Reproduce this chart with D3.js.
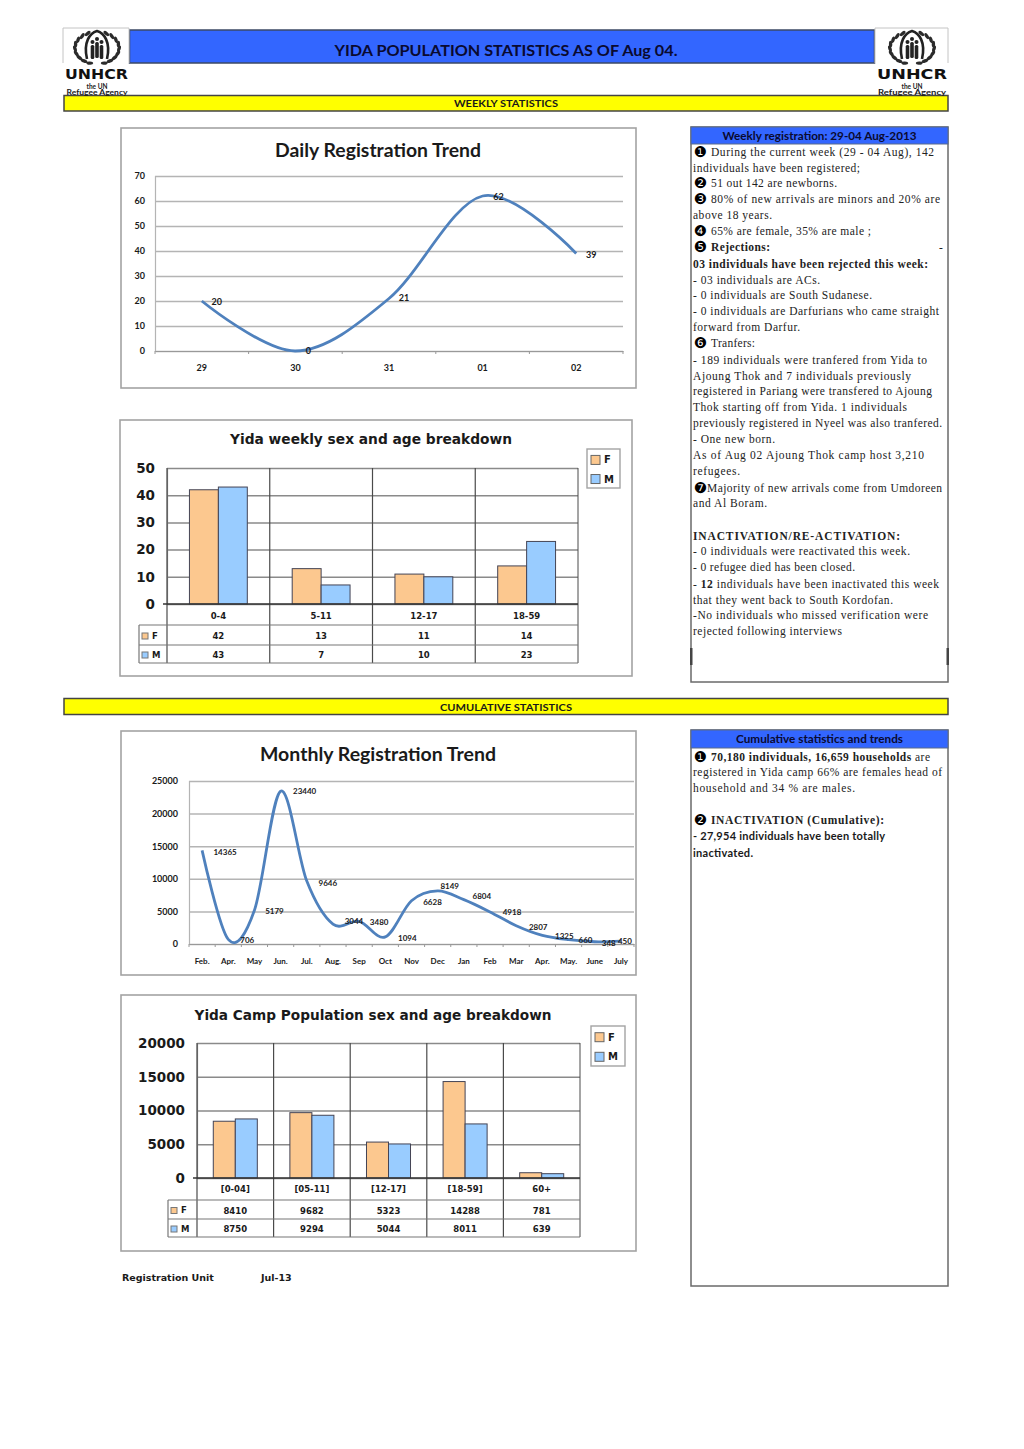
<!DOCTYPE html>
<html>
<head>
<meta charset="utf-8">
<title>Yida population statistics</title>
<script src="https://d3js.org/d3.v7.min.js"></script>
<style>
    html, body { margin: 0; padding: 0; background: #fff; }
    svg { display: block; }
    text { fill: #1a1a1a; }
    .sans { font-family: "Lato", "Open Sans", sans-serif; font-weight: 700; }
    .wide { font-family: "DejaVu Sans", sans-serif; font-weight: 700; }
    .serif { font-family: "Liberation Serif", serif; font-size: 11.5px; fill: #222; }
</style>
</head>
<body>
<div id="my_dataviz"></div>
<script>
// daily registration
var dailyDays = ["29", "30", "31", "01", "02"];
var dailyValues = [20, 0, 21, 62, 39];
var dailyTicks = [0, 10, 20, 30, 40, 50, 60, 70];

// monthly registration
var monthNames = ["Feb.", "Apr.", "May", "Jun.", "Jul.", "Aug.", "Sep", "Oct", "Nov", "Dec", "Jan", "Feb", "Mar", "Apr.", "May.", "June", "July"];
var monthValues = [14365, 706, 5179, 23440, 9646, 3044, 3480, 1094, 6628, 8149, 6804, 4918, 2807, 1325, 660, 348, 450];
var monthTicks = [0, 5000, 10000, 15000, 20000, 25000];
var monthLabelDx = [23, 19, 20, 24, 21, 21, 20, 22, 21, 12, 18, 22, 22, 22, 17, 14, 4];
var monthLabelDy = [2, 1, 1, 0, 2, -3, 1, 1, 1, -5, -3, 0, 2, 1, 1, 1, 0];

// weekly sex and age breakdown
var weeklyAges = ["0-4", "5-11", "12-17", "18-59"];
var weeklyF = [42, 13, 11, 14];
var weeklyM = [43, 7, 10, 23];
var weeklyTicks = [0, 10, 20, 30, 40, 50];

// camp population sex and age breakdown
var campAges = ["[0-04]", "[05-11]", "[12-17]", "[18-59]", "60+"];
var campF = [8410, 9682, 5323, 14288, 781];
var campM = [8750, 9294, 5044, 8011, 639];
var campTicks = [0, 5000, 10000, 15000, 20000];

// side notes: [text, bold, bullet, bold part of the line]
var weeklyNotes = [
    ["During the current week (29 - 04  Aug), 142", 0, "\u2776"],
    ["individuals have been registered;", 0],
    ["51 out 142 are newborns.", 0, "\u2777"],
    ["80% of new arrivals are minors and  20%  are", 0, "\u2778"],
    ["above  18 years.", 0],
    ["65%  are female, 35% are male ;", 0, "\u2779"],
    ["Rejections:", 1, "\u277A"],
    ["03 individuals have been rejected this week:", 1],
    ["- 03 individuals are ACs.", 0],
    ["- 0 individuals are South Sudanese.", 0],
    ["- 0 individuals are Darfurians who came straight", 0],
    ["forward from Darfur.", 0],
    ["Tranfers:", 0, "\u277B"],
    ["- 189 individuals were tranfered from Yida to", 0],
    ["Ajoung Thok and  7 individuals previously", 0],
    ["registered in Pariang were transfered to Ajoung", 0],
    ["Thok starting off from Yida. 1 individuals", 0],
    ["previously registered in Nyeel was also tranfered.", 0],
    ["- One new born.", 0],
    ["As of  Aug 02  Ajoung Thok camp host 3,210", 0],
    ["refugees.", 0],
    ["Majority of new arrivals come from Umdoreen", 0, "\u277C"],
    ["and  Al Boram.", 0],
    ["", 0],
    ["INACTIVATION/RE-ACTIVATION:", 1],
    ["-  0 individuals were reactivated this week.", 0],
    ["- 0 refugee died has been closed.", 0],
    ["-  12 individuals have been inactivated this week", 0, null, [3, 5]],
    ["that they went back to South Kordofan.", 0],
    ["-No  individuals who missed verification were", 0],
    ["rejected following interviews", 0]
];
var weeklyNoteEnds = [934, 860, 837, 940, 772, 871, 770, 928, 820, 872, 939, 800, 755, 927, 911, 932, 907, 942, 775, 924, 740, 942, 767, 0, 900, 910, 855, 939, 893, 928, 842];

var cumulativeNotes = [
    ["70,180 individuals, 16,659 households are", 0, "\u2776", [0, 37]],
    ["registered in Yida camp 66% are females head of", 0],
    ["household and 34 %  are males.", 0],
    ["", 0],
    ["INACTIVATION (Cumulative):", 1, "\u2777"],
    ["- 27,954 individuals have been totally", 2],
    ["inactivated.", 2]
];
var cumulativeNoteEnds = [930, 942, 855, 0, 884, 885, 753];

var fColor = "#fcc88f", mColor = "#99ccff";
var frameColor = "#a3a3a3", gridColor = "#b4b4b4", darkLine = "#4a4a4a";

var svg = d3.select("#my_dataviz").append("svg")
    .attr("width", 1024)
    .attr("height", 1449);

function box(x, y, w, h, fill, stroke, sw) {
    return svg.append("rect")
        .attr("x", x).attr("y", y).attr("width", w).attr("height", h)
        .attr("fill", fill).attr("stroke", stroke).attr("stroke-width", sw);
}

function centered(x, y, str, cls, size, spread) {
    var t = svg.append("text")
        .attr("class", cls)
        .attr("x", x).attr("y", y)
        .attr("dy", "0.35em")
        .attr("text-anchor", "middle")
        .style("font-size", size + "px")
        .text(str);
    if (spread) t.attr("textLength", spread).attr("lengthAdjust", "spacingAndGlyphs");
    return t;
}

function drawLogo(cx, logoX, logoW) {
    var g = svg.append("g");
    var cy = 48;
    g.append("path")
        .attr("d", "M" + logoX + ",63V28H" + (logoX + logoW) + "V63")
        .attr("fill", "#fff").attr("stroke", "#c4c4c4").attr("stroke-width", 1);

    // wreath leaves
    [-1, 1].forEach(function (side) {
        for (var i = 0; i < 9; i++) {
            var a = (-65 + i * 17) * Math.PI / 180;
            var lx = cx + side * 21 * Math.cos(a) * 1.05;
            var ly = cy + 16 * Math.sin(a);
            g.append("ellipse")
                .attr("cx", lx).attr("cy", ly)
                .attr("rx", 1.7).attr("ry", 3.4)
                .attr("transform", "rotate(" + (side * (a * 180 / Math.PI + 15)) + " " + lx + " " + ly + ")")
                .attr("fill", "#2b2b2b");
        }
    });

    // sheltering hands
    g.append("path")
        .attr("d", "M" + (cx - 10) + "," + (cy + 11) + " C" + (cx - 14) + "," + (cy - 6) + " " + (cx - 7) + "," + (cy - 15) + " " + cx + "," + (cy - 17)
            + " C" + (cx + 7) + "," + (cy - 15) + " " + (cx + 14) + "," + (cy - 6) + " " + (cx + 10) + "," + (cy + 11))
        .attr("fill", "none").attr("stroke", "#222").attr("stroke-width", 2.6);

    // family figures
    [-4.5, 0, 4.5].forEach(function (dx, i) {
        g.append("circle").attr("cx", cx + dx).attr("cy", cy - 8 + (i == 1 ? -1 : 2)).attr("r", 2).attr("fill", "#222");
        g.append("rect").attr("x", cx + dx - 1.8).attr("y", cy - 5 + (i == 1 ? -1 : 2))
            .attr("width", 3.6).attr("height", 16 - (i == 1 ? 0 : 2)).attr("rx", 1.5).attr("fill", "#222");
    });

    var lx = logoX + 2, rx = logoX + logoW - 1;
    centered((lx + rx) / 2, 74, "UNHCR", "wide", 14.5, rx - lx).style("fill", "#111");
    centered(cx, 87, "the UN", "sans", 6.5);
    centered(cx, 93, "Refugee Agency", "sans", 6.5, rx - lx - 2);
}

function drawHeader() {
    box(129.5, 30, 745, 33, "#3366ff", "#3d4a66", 1.5);

    box(64, 95.5, 884, 15.5, "#ffff00", "#444", 1.5);
    centered(506, 103, "WEEKLY STATISTICS", "sans", 10, 104);

    drawLogo(97, 63, 66);
    drawLogo(912, 875, 73);

    centered(506, 51, "YIDA POPULATION STATISTICS AS OF Aug 04.", "sans", 15.5, 343).style("fill", "#0a0a30");

    box(64, 698.5, 884, 16, "#ffff00", "#444", 1.5);
    centered(506, 707, "CUMULATIVE STATISTICS", "sans", 10, 132);
}

function drawNotes(x, y, w, h, headH, title, titleLen, notes, ends, lineY) {
    box(x, y, w, h, "#fff", "#6a6a6a", 1.5);
    box(x, y, w, headH, "#3366ff", "#5a6a8a", 1);
    centered(x + w / 2, y + headH / 2 + 0.5, title, "sans", 10.5, titleLen).style("fill", "#0a0a30");

    notes.forEach(function (n, i) {
        if (n[0] == "") return;
        var startX = n[2] ? (n[2] == "\u277C" ? 707 : 711) : 693;
        var t = svg.append("text")
            .attr("x", startX)
            .attr("y", lineY[i])
            .attr("dy", "0.35em")
            .attr("class", n[1] == 2 ? "sans" : "serif")
            .style("font-weight", n[1] ? 700 : 400)
            .style("font-size", n[1] == 2 ? "11px" : null)
            .attr("textLength", ends[i] - startX)
            .attr("lengthAdjust", "spacing");
        if (n[3]) {
            t.append("tspan").text(n[0].slice(0, n[3][0]));
            t.append("tspan").style("font-weight", 700).text(n[0].slice(n[3][0], n[3][1]));
            t.append("tspan").text(n[0].slice(n[3][1]));
        } else {
            t.text(n[0]);
        }
        if (n[2]) {
            svg.append("text")
                .attr("x", 700.5).attr("y", lineY[i]).attr("dy", "0.36em")
                .attr("text-anchor", "middle")
                .style("font-family", "DejaVu Sans").style("font-size", "15px").style("fill", "#000")
                .text(n[2]);
        }
    });
}

// y gridlines and tick labels through d3.axisLeft
function yAxis(scale, ticks, left, right, cls, size, tickColor, pad) {
    var g = svg.append("g")
        .attr("transform", "translate(" + left + ",0)")
        .call(d3.axisLeft(scale).tickValues(ticks).tickSize(-(right - left)).tickPadding(pad).tickFormat(d3.format("d")));
    g.select(".domain").attr("stroke", tickColor).attr("stroke-width", 1.2);
    g.selectAll(".tick line").attr("stroke", tickColor).attr("stroke-width", 1.5);
    g.selectAll(".tick text").attr("class", cls).style("font-size", size + "px");
    return g;
}

function drawLineChart(cfg) {
    box(cfg.box[0], cfg.box[1], cfg.box[2], cfg.box[3], "#fff", frameColor, 1.6);
    centered(cfg.titleX, cfg.titleY, cfg.title, "sans", cfg.titleSize, cfg.titleLen);

    // categories repeat (Apr., Feb), so the band scale works on the index
    var x = d3.scaleBand().domain(d3.range(cfg.cats.length)).range([cfg.left, cfg.right]);
    var y = d3.scaleLinear().domain([0, cfg.ticks[cfg.ticks.length - 1]]).range([cfg.bottom, cfg.top]);

    yAxis(y, cfg.ticks, cfg.left, cfg.right, "sans", cfg.tickSize, gridColor, cfg.tickPad);

    // bottom axis, ticks at category edges
    var xg = svg.append("g")
        .attr("transform", "translate(0," + cfg.bottom + ")")
        .call(d3.axisBottom(x).tickSize(0).tickPadding(cfg.catPad).tickFormat(function (i) { return cfg.cats[i]; }));
    xg.select(".domain").attr("stroke", "#999").attr("stroke-width", 1.2);
    xg.selectAll(".tick text").attr("class", "sans").style("font-size", cfg.catSize + "px");
    xg.selectAll(".edge").data(d3.range(cfg.cats.length + 1)).enter().append("line")
        .attr("x1", function (i) { return cfg.left + i * x.bandwidth(); })
        .attr("x2", function (i) { return cfg.left + i * x.bandwidth(); })
        .attr("y1", 0).attr("y2", 3)
        .attr("stroke", "#999");

    var line = d3.line()
        .x(function (d, i) { return x(i) + x.bandwidth() / 2; })
        .y(function (d) { return y(d); })
        .curve(d3.curveCatmullRom.alpha(0));

    svg.append("path")
        .datum(cfg.values)
        .attr("d", line)
        .attr("fill", "none")
        .attr("stroke", "#4f81bd")
        .attr("stroke-width", 2.8);

    svg.selectAll(null).data(cfg.values).enter().append("text")
        .attr("class", "sans")
        .attr("text-anchor", "middle")
        .attr("dy", "0.35em")
        .style("font-size", cfg.labelSize + "px")
        .attr("x", function (d, i) { return x(i) + x.bandwidth() / 2 + cfg.labelDx[i]; })
        .attr("y", function (d, i) { return y(d) + cfg.labelDy[i]; })
        .text(function (d) { return d; });
}

function drawLegend(x, y, w, h) {
    box(x, y, w, h, "#fff", frameColor, 1.4);
    [["F", fColor, 0.28], ["M", mColor, 0.77]].forEach(function (d) {
        svg.append("rect")
            .attr("x", x + 4).attr("y", y + h * d[2] - 4.5).attr("width", 9).attr("height", 9)
            .attr("fill", d[1]).attr("stroke", "#666");
        svg.append("text").attr("class", "wide")
            .attr("x", x + 17).attr("y", y + h * d[2]).attr("dy", "0.35em")
            .style("font-size", "10px")
            .text(d[0]);
    });
}

function drawBarTable(cfg) {
    box(cfg.box[0], cfg.box[1], cfg.box[2], cfg.box[3], "#fff", frameColor, 1.6);
    centered(cfg.titleX, cfg.titleY, cfg.title, "wide", cfg.titleSize, cfg.titleLen);

    var x0 = d3.scaleBand().domain(cfg.cats).range([cfg.left, cfg.right]);
    var x1 = d3.scaleBand().domain(["F", "M"]).range([0, x0.bandwidth()]).paddingOuter(cfg.pad).paddingInner(0);
    var y = d3.scaleLinear().domain([0, cfg.ticks[cfg.ticks.length - 1]]).range([cfg.bottom, cfg.top]);

    yAxis(y, cfg.ticks, cfg.left, cfg.right, "wide", cfg.tickSize, "#8a8a8a", 12);

    // category separators run through the table
    var rows = cfg.rows;
    cfg.cats.concat([""]).forEach(function (d, i) {
        var px = cfg.left + i * x0.bandwidth();
        svg.append("line").attr("x1", px).attr("x2", px).attr("y1", cfg.top).attr("y2", rows[3])
            .attr("stroke", darkLine).attr("stroke-width", i == cfg.cats.length ? 1 : 1.2);
    });

    [["F", cfg.f, fColor], ["M", cfg.m, mColor]].forEach(function (s) {
        svg.selectAll(null).data(s[1]).enter().append("rect")
            .attr("x", function (d, i) { return x0(cfg.cats[i]) + x1(s[0]); })
            .attr("y", function (d) { return y(d); })
            .attr("width", x1.bandwidth())
            .attr("height", function (d) { return cfg.bottom - y(d); })
            .attr("fill", s[2])
            .attr("stroke", "#445")
            .attr("stroke-width", 1);
    });

    svg.append("line").attr("x1", cfg.left - 4).attr("x2", cfg.right).attr("y1", cfg.bottom).attr("y2", cfg.bottom)
        .attr("stroke", "#333").attr("stroke-width", 1.5);

    // table
    [1, 2, 3].forEach(function (r) {
        svg.append("line").attr("x1", cfg.tableLeft).attr("x2", cfg.right).attr("y1", rows[r]).attr("y2", rows[r])
            .attr("stroke", "#777").attr("stroke-width", 1.2);
    });
    svg.append("line").attr("x1", cfg.tableLeft).attr("x2", cfg.tableLeft).attr("y1", rows[1]).attr("y2", rows[3])
        .attr("stroke", "#777").attr("stroke-width", 1.2);

    cfg.cats.forEach(function (c, i) {
        var cx = x0(c) + x0.bandwidth() / 2;
        centered(cx, (rows[0] + rows[1]) / 2 + cfg.catDy, c, "wide", cfg.cellSize);
        centered(cx, (rows[1] + rows[2]) / 2 + 1.5, cfg.f[i], "wide", cfg.cellSize);
        centered(cx, (rows[2] + rows[3]) / 2 + 1.5, cfg.m[i], "wide", cfg.cellSize);
    });

    [["F", fColor, 1], ["M", mColor, 2]].forEach(function (d) {
        var my = (rows[d[2]] + rows[d[2] + 1]) / 2 + 1;
        svg.append("rect").attr("x", cfg.tableLeft + 3).attr("y", my - 3).attr("width", 6).attr("height", 6)
            .attr("fill", d[1]).attr("stroke", "#777");
        svg.append("text").attr("class", "wide").attr("x", cfg.tableLeft + 13).attr("y", my).attr("dy", "0.35em")
            .style("font-size", "8.5px").text(d[0]);
    });

    drawLegend(cfg.legend[0], cfg.legend[1], cfg.legend[2], cfg.legend[3]);
}

drawHeader();

drawLineChart({
    box: [121, 128, 515, 260],
    title: "Daily Registration Trend", titleX: 378, titleY: 150, titleSize: 19.5, titleLen: 206,
    cats: dailyDays, values: dailyValues, ticks: dailyTicks,
    left: 155, right: 623, top: 176, bottom: 351,
    tickSize: 9, tickPad: 10, catSize: 9, catPad: 14, labelSize: 9,
    labelDx: [15, 13, 15, 16, 15], labelDy: [1, 0, -1, 1, 1]
});

drawBarTable({
    box: [120, 420, 512, 256],
    title: "Yida weekly  sex and age breakdown", titleX: 371, titleY: 439, titleSize: 13.5, titleLen: 282,
    cats: weeklyAges, f: weeklyF, m: weeklyM, ticks: weeklyTicks,
    left: 167, right: 578, top: 468, bottom: 604, pad: 0.776, catDy: 1.5,
    rows: [604, 625, 645, 663], tableLeft: 139,
    tickSize: 13.5, cellSize: 8.5, legend: [587, 449, 33, 39]
});

drawLineChart({
    box: [121, 731, 515, 244],
    title: "Monthly Registration Trend", titleX: 378, titleY: 754, titleSize: 19.5, titleLen: 236,
    cats: monthNames, values: monthValues, ticks: monthTicks,
    left: 189, right: 634, top: 781, bottom: 944,
    tickSize: 9, tickPad: 11, catSize: 8, catPad: 14, labelSize: 8,
    labelDx: monthLabelDx, labelDy: monthLabelDy
});

drawBarTable({
    box: [121, 995, 515, 256],
    title: "Yida Camp Population sex and age breakdown", titleX: 373, titleY: 1015, titleSize: 13.5, titleLen: 357,
    cats: campAges, f: campF, m: campM, ticks: campTicks,
    left: 197, right: 580, top: 1043, bottom: 1178, pad: 0.74, catDy: 0,
    rows: [1178, 1200, 1219, 1237], tableLeft: 168,
    tickSize: 13.5, cellSize: 8.5, legend: [591, 1026, 34, 40]
});

var weeklyLineY = [152, 168, 183, 199, 215, 231, 247, 264, 280, 295, 311, 327, 343, 360, 376, 391, 407, 423, 439, 455, 471, 488, 503, 519, 536, 551, 567, 584, 600, 615, 631];
drawNotes(691, 127, 257, 555, 17, "Weekly registration:  29-04  Aug-2013", 194, weeklyNotes, weeklyNoteEnds, weeklyLineY);
svg.append("text").attr("class", "serif").attr("x", 939).attr("y", 247).attr("dy", "0.35em").text("-");
svg.append("rect").attr("x", 690).attr("y", 648).attr("width", 2.5).attr("height", 17).attr("fill", "#444");
svg.append("rect").attr("x", 946.5).attr("y", 648).attr("width", 2.5).attr("height", 17).attr("fill", "#444");

var cumulativeLineY = [757, 772, 788, 804, 820, 836, 853];
drawNotes(691, 730, 257, 556, 18, "Cumulative statistics and trends", 167, cumulativeNotes, cumulativeNoteEnds, cumulativeLineY);

svg.append("text").attr("class", "wide").attr("x", 122).attr("y", 1278).attr("dy", "0.35em").style("font-size", "9.5px").text("Registration Unit");
svg.append("text").attr("class", "wide").attr("x", 261).attr("y", 1278).attr("dy", "0.35em").style("font-size", "9.5px").text("Jul-13");
</script>
</body>
</html>
